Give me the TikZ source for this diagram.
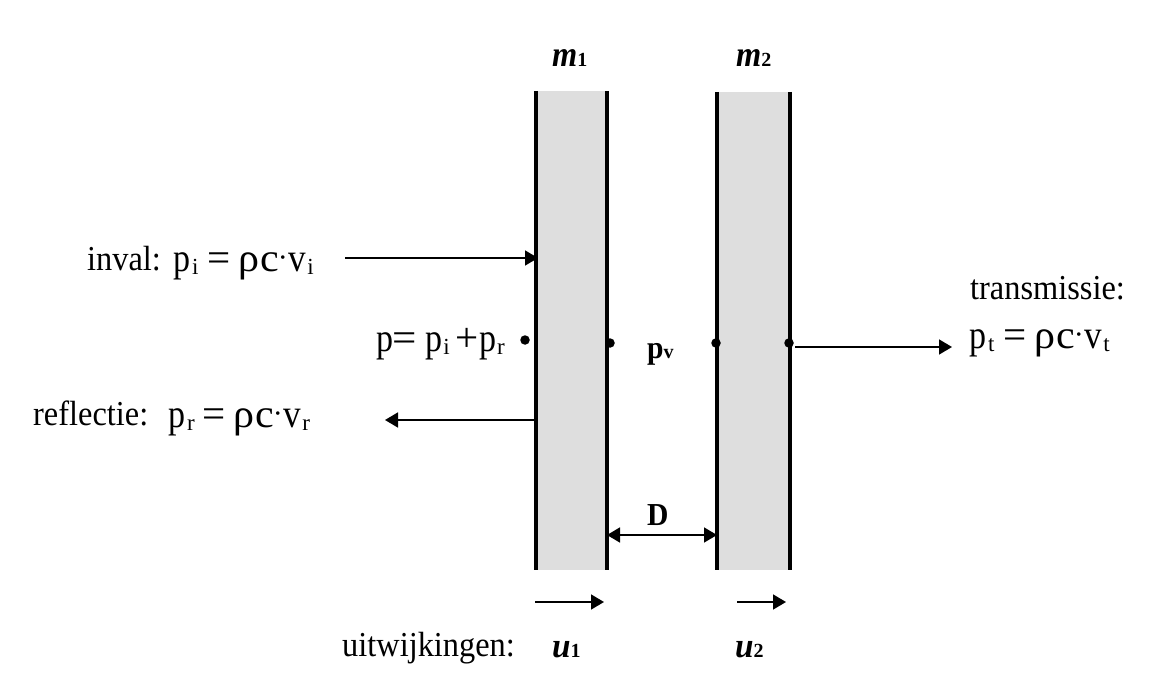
\documentclass[tikz,border=0pt]{standalone}
\usepackage{fontspec}
\usepackage{graphicx}
\setmainfont{Liberation Serif}
\usetikzlibrary{arrows.meta}
\newcommand{\fz}[1]{\fontsize{#1}{#1}\selectfont}
\newcommand{\gl}[3]{\scalebox{#1}[1]{\fz{#2}#3}}
\newcommand{\sbs}[1]{\raisebox{-3pt}{\fz{23}#1}}
\newcommand{\sbx}[1]{\makebox[6.4pt][l]{\raisebox{-3pt}{\fz{23}#1}}}
\newcommand{\kn}[1]{\hspace*{#1}}
\newcommand{\eqn}[2]{\gl{.85}{40}{p}\kn{2pt}\sbx{#1}\kn{8.5pt}\gl{1}{41}{=}\kn{8pt}\gl{1.05}{40}{ρ}\kn{1pt}\gl{1.05}{40}{c}\kn{-1pt}\raisebox{4pt}{\fz{30}·}\kn{1pt}\gl{.88}{40}{v}\kn{1pt}\sbs{#2}}
\newcommand{\labl}[1]{\gl{.925}{35}{#1}}
\newcommand{\bsub}[1]{{\fz{20}\normalfont\bfseries #1}}
\tikzset{
  x=1pt,y=-1pt,
  lab/.style={inner sep=0pt,anchor=base west},
  wall/.style={line width=3.2pt},
  flow/.style={line width=1.6pt,-{Triangle[length=13pt,width=15pt]}},
  dim/.style={line width=1.6pt,{Triangle[length=13pt,width=15pt]}-{Triangle[length=13pt,width=15pt]}},
  pt/.style={circle,fill=black,inner sep=0pt,minimum size=9.5pt},
  mass/.style={fill=black!13,draw=none}
}
\begin{document}
\begin{tikzpicture}
\useasboundingbox (0,0) rectangle (1173,682);
\fill[mass] (536,91) rectangle (607,570);
\fill[mass] (717,92) rectangle (790,570);
\coordinate (w1t) at (536,91); \coordinate (w1b) at (536,570);
\coordinate (w2t) at (607,91); \coordinate (w2b) at (607,570);
\coordinate (w3t) at (717,92); \coordinate (w3b) at (717,570);
\coordinate (w4t) at (790,92); \coordinate (w4b) at (790,570);
\draw[wall] (w1t) -- (w1b);
\draw[wall] (w2t) -- (w2b);
\draw[wall] (w3t) -- (w3b);
\draw[wall] (w4t) -- (w4b);
\node[lab] (m1) at (552,67) {\gl{.9}{36}{\bfseries\itshape m}\bsub{1}};
\node[lab] (m2) at (736,67) {\gl{.9}{36}{\bfseries\itshape m}\bsub{2}};
\node[lab] (inval) at (87,270) {\labl{inval:}};
\node[lab] (pi) at (173,271) {\eqn{i}{i}};
\coordinate (a1s) at (345,258); \coordinate (a1e) at (538,258);
\draw[flow] (a1s) -- (a1e);
\node[lab] (p) at (376,351) {\gl{.85}{40}{p}\kn{-1pt}\gl{1.05}{41}{=}\kn{9pt}\gl{.85}{40}{p}\kn{1pt}\sbx{i}\kn{6pt}\gl{1}{41}{+}\kn{0pt}\gl{.85}{40}{p}\kn{1pt}\sbs{r}};
\node[pt] (d0) at (525,340) {};
\node[pt] (d1) at (610,343) {};
\node[pt] (d2) at (716,343) {};
\node[pt] (d3) at (789,343) {};
\node[lab] (pv) at (647,358) {\gl{.925}{32}{\bfseries p}\bsub{v}};
\node[lab] (refl) at (33,425) {\labl{reflectie:}};
\node[lab] (pr) at (168,427) {\eqn{r}{r}};
\coordinate (a2s) at (537,420); \coordinate (a2e) at (385,420);
\draw[flow] (a2s) -- (a2e);
\node[lab] (trans) at (970,299) {\labl{transmissie:}};
\node[lab] (pt) at (969,348) {\eqn{t}{t}};
\coordinate (a3s) at (795,347); \coordinate (a3e) at (952,347);
\draw[flow] (a3s) -- (a3e);
\node[lab] (D) at (647,525) {\gl{.925}{32}{\bfseries D}};
\coordinate (ds) at (607,535); \coordinate (de) at (717,535);
\draw[dim] (ds) -- (de);
\coordinate (u1s) at (535,602); \coordinate (u1e) at (604,602);
\coordinate (u2s) at (737,602); \coordinate (u2e) at (786,602);
\draw[flow] (u1s) -- (u1e);
\draw[flow] (u2s) -- (u2e);
\node[lab] (uit) at (342,656) {\labl{uitwijkingen:}};
\node[lab] (u1) at (552,657) {\gl{.95}{35}{\bfseries\itshape u}\bsub{1}};
\node[lab] (u2) at (735,657) {\gl{.95}{35}{\bfseries\itshape u}\bsub{2}};
\end{tikzpicture}
\end{document}
